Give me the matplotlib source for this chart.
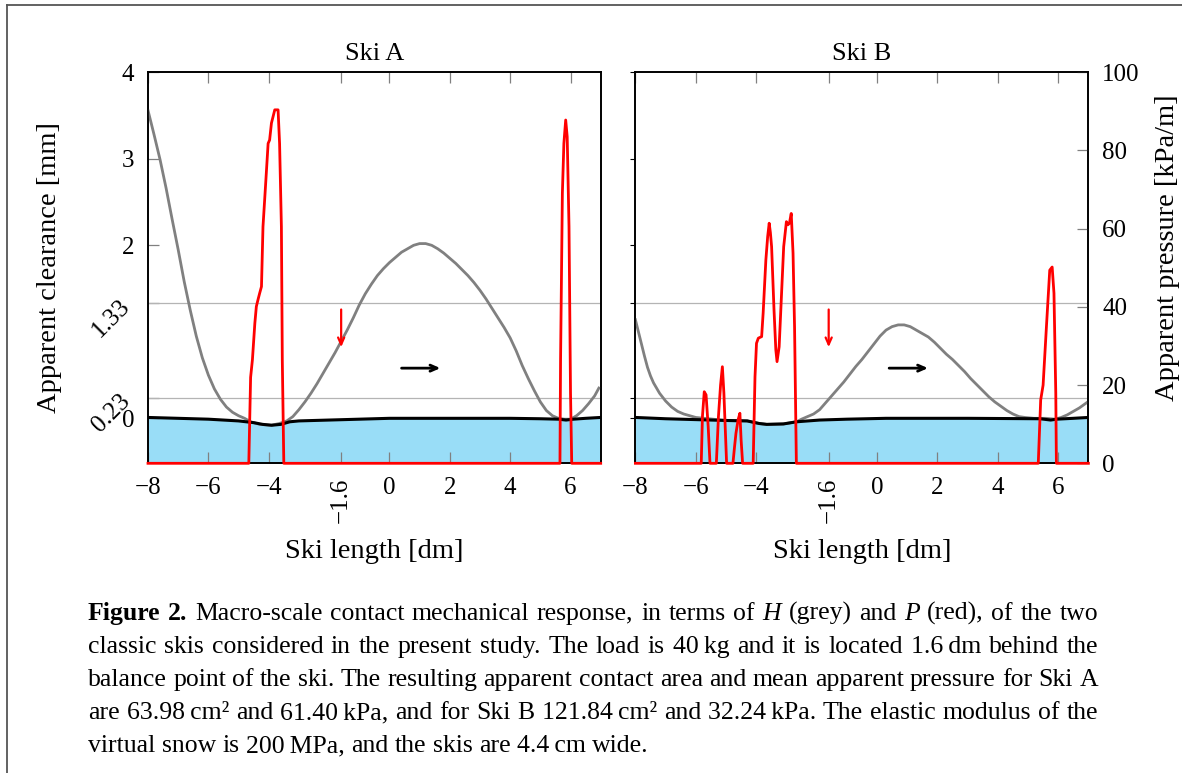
import matplotlib
matplotlib.use("Agg")
import matplotlib.pyplot as plt
from matplotlib.lines import Line2D

plt.rcParams['font.family'] = ['Liberation Serif', 'DejaVu Serif']
plt.rcParams['axes.unicode_minus'] = True

# ---------------- data ----------------
# Ski A: apparent clearance H [mm]
ski_a_h_x = [-8.0, -7.8, -7.6, -7.4, -7.2, -7.0, -6.8, -6.6, -6.4, -6.2, -6.0, -5.8, -5.6,
             -5.4, -5.2, -5.0, -4.8, -4.6, -4.3, -3.92, -3.65, -3.4, -3.2, -3.0, -2.8, -2.6,
             -2.4, -2.2, -2.0, -1.8, -1.6, -1.4, -1.2, -1.0, -0.8, -0.6, -0.4, -0.2, 0.0,
             0.2, 0.4, 0.6, 0.8, 1.0, 1.2, 1.4, 1.6, 1.8, 2.0, 2.2, 2.4, 2.6, 2.8, 3.0, 3.2,
             3.4, 3.6, 3.8, 4.0, 4.2, 4.4, 4.6, 4.8, 5.0, 5.2, 5.4, 5.6, 5.8, 6.0, 6.2, 6.4,
             6.6, 6.8, 6.94]
ski_a_h = [3.56, 3.28, 2.99, 2.66, 2.30, 1.95, 1.58, 1.25, 0.95, 0.70, 0.50, 0.34, 0.22,
           0.13, 0.07, 0.03, 0.00, -0.04, -0.07, -0.08, -0.06, -0.03, 0.02, 0.10, 0.19, 0.29,
           0.40, 0.52, 0.64, 0.76, 0.89, 1.02, 1.16, 1.31, 1.44, 1.55, 1.65, 1.73, 1.80,
           1.86, 1.92, 1.96, 2.00, 2.02, 2.02, 2.00, 1.96, 1.91, 1.85, 1.79, 1.72, 1.65, 1.57,
           1.48, 1.38, 1.27, 1.16, 1.05, 0.93, 0.78, 0.61, 0.46, 0.32, 0.19, 0.09, 0.03, 0.00,
           -0.01, -0.01, 0.03, 0.09, 0.17, 0.26, 0.35]
# Ski A: snow surface [mm]
ski_a_s_x = [-8.0, -7.0, -6.0, -5.0, -4.5, -4.2, -3.9, -3.6, -3.3, -3.0, -2.0, -1.0,
             0.0, 2.0, 4.0, 5.0, 5.6, 5.85, 6.1, 6.5, 7.0]
ski_a_s = [0.01, 0.00, -0.01, -0.03, -0.05, -0.07, -0.08, -0.07, -0.04, -0.03, -0.02, -0.01,
           0.00, 0.00, 0.00, -0.005, -0.01, -0.02, -0.01, 0.00, 0.01]
# Ski A: apparent pressure P [kPa/m]
ski_a_p_x = [-8.0, -4.66, -4.60, -4.54, -4.46, -4.41, -4.35, -4.30, -4.24, -4.19, -4.08,
             -4.02, -3.97, -3.91, -3.80, -3.69, -3.64, -3.58, -3.55, -3.50,
             5.65, 5.67, 5.73, 5.78, 5.84, 5.89, 5.95, 6.00, 6.04, 7.0]
ski_a_p = [0, 0, 22.0, 26.5, 35.8, 40.1, 42.0, 43.5, 45.2, 60.5, 74.2,
           81.8, 82.7, 87.0, 90.4, 90.4, 81.8, 60.5, 26.4, 0,
           0, 26.4, 69.1, 81.8, 87.8, 83.5, 60.5, 17.9, 0, 0]

# Ski B: apparent clearance H [mm]
ski_b_h_x = [-8.0, -7.9, -7.8, -7.7, -7.6, -7.5, -7.4, -7.3, -7.2, -7.0, -6.8, -6.6, -6.4,
             -6.2, -6.0, -5.0, -4.3, -3.9, -3.65, -3.1, -2.66, -2.5, -2.3, -2.1, -1.9, -1.7,
             -1.5, -1.3, -1.1, -0.9, -0.7, -0.5, -0.3, -0.1, 0.1, 0.3, 0.5, 0.7, 0.9, 1.1,
             1.3, 1.5, 1.7, 1.9, 2.1, 2.3, 2.5, 2.7, 2.9, 3.1, 3.3, 3.5, 3.7, 3.9, 4.1, 4.3,
             4.5, 4.7, 4.9, 5.2, 5.6, 5.9, 6.1, 6.3, 6.5, 6.7, 6.94]
ski_b_h = [1.14, 1.00, 0.86, 0.72, 0.59, 0.49, 0.41, 0.35, 0.29, 0.20, 0.13, 0.08, 0.05,
           0.03, 0.01, -0.025, -0.03, -0.06, -0.07, -0.065, -0.04, -0.01, 0.02, 0.05, 0.10,
           0.18, 0.26, 0.34, 0.42, 0.51, 0.60, 0.68, 0.77, 0.86, 0.95, 1.02, 1.06, 1.08,
           1.08, 1.06, 1.02, 0.98, 0.94, 0.88, 0.81, 0.74, 0.68, 0.61, 0.54, 0.46, 0.39,
           0.32, 0.25, 0.19, 0.14, 0.09, 0.05, 0.02, 0.01, 0.00, 0.00, -0.01, 0.01, 0.04,
           0.08, 0.12, 0.18]
# Ski B: snow surface [mm]
ski_b_s_x = [-8.0, -7.0, -6.0, -5.0, -4.3, -3.9, -3.65, -3.1, -2.66, -1.9, -1.0, 0.3,
             3.0, 5.4, 5.75, 5.95, 6.5, 7.0]
ski_b_s = [0.01, -0.005, -0.015, -0.025, -0.03, -0.06, -0.07, -0.065, -0.04, -0.02, -0.01, 0.0,
           0.0, -0.005, -0.02, -0.01, 0.0, 0.01]
# Ski B: apparent pressure P [kPa/m]
ski_b_p_x = [-8.0, -5.82, -5.78, -5.72, -5.66, -5.59, -5.53,
             -5.32, -5.25, -5.18, -5.12, -5.07, -5.02, -4.98,
             -4.77, -4.72, -4.67, -4.60, -4.54, -4.50, -4.45,
             -4.10, -4.04, -3.99, -3.93, -3.82, -3.77, -3.68, -3.62, -3.57, -3.53, -3.49,
             -3.41, -3.35, -3.31, -3.24, -3.16, -3.09, -3.00, -2.95, -2.90, -2.84, -2.78,
             -2.73, -2.67,
             5.34, 5.42, 5.50, 5.61, 5.72, 5.80, 5.86, 5.92, 5.94, 7.0]
ski_b_p = [0, 0, 12.0, 18.3, 17.5, 9.4, 0,
           0, 12.0, 20.0, 24.7, 18.0, 8.0, 0,
           0, 4.0, 7.7, 11.1, 12.8, 6.0, 0,
           0, 22.1, 30.7, 32.0, 32.4, 38.4, 52.0, 58.0, 61.4, 59.0, 55.4,
           39.2, 29.0, 26.0, 29.8, 43.5, 55.4, 61.8, 61.0, 61.4, 63.9, 53.7,
           34.9, 0,
           0, 16.2, 20.0, 34.9, 49.4, 50.2, 43.5, 17.9, 0, 0]

panel_titles = ["Ski A", "Ski B"]
x_ticks = [-8, -6, -4, -1.6, 0, 2, 4, 6]
x_tick_labels = ["\u22128", "\u22126", "\u22124", "\u22121.6", "0", "2", "4", "6"]
h_ticks = [0, 0.23, 1.33, 2, 3, 4]
h_tick_labels = ["0", "0.23", "1.33", "2", "3", "4"]
h_ref_levels = [0.23, 1.33]
p_ticks = [0, 20, 40, 60, 80, 100]
p_tick_labels = ["0", "20", "40", "60", "80", "100"]
load_position = -1.6

caption_lines = [
    [("Figure", "bold"), ("2.", "bold"), ("Macro-scale", ""), ("contact", ""), ("mechanical", ""),
     ("response,", ""), ("in", ""), ("terms", ""), ("of", ""), ("H", "italic"), ("(grey)", ""),
     ("and", ""), ("P", "italic"), ("(red),", ""), ("of", ""), ("the", ""), ("two", "")],
    "classic skis considered in the present study. The load is 40\u2009kg and it is located "
    "1.6\u2009dm behind the",
    "balance point of the ski. The resulting apparent contact area and mean apparent pressure "
    "for Ski A",
    "are 63.98\u2009cm\u00b2 and 61.40\u2009kPa, and for Ski B 121.84\u2009cm\u00b2 and "
    "32.24\u2009kPa. The elastic modulus of the",
    "virtual snow is 200\u2009MPa, and the skis are 4.4\u2009cm wide.",
]

# ---------------- figure ----------------
W, H = 1182, 773
fig = plt.figure(figsize=(W / 100, H / 100), dpi=100)

def px_rect(x0, y0, x1, y1):
    return [x0 / W, 1 - y1 / H, (x1 - x0) / W, (y1 - y0) / H]

GREY = "#808080"
BLUE = "#99DDF7"
H_LIM = (-0.52, 4.0)
X_LIM = (-8, 7)

panels = [
    (px_rect(148, 72.3, 600.7, 463.3), ski_a_h_x, ski_a_h, ski_a_s_x, ski_a_s, ski_a_p_x, ski_a_p),
    (px_rect(635.4, 72.3, 1088.4, 463.3), ski_b_h_x, ski_b_h, ski_b_s_x, ski_b_s, ski_b_p_x, ski_b_p),
]

for i, (rect, hx, hy, sx, sy, px, py) in enumerate(panels):
    ax = fig.add_axes(rect)
    ax.set_xlim(*X_LIM)
    ax.set_ylim(*H_LIM)
    ax.fill_between(sx, sy, H_LIM[0], color=BLUE, lw=0, zorder=1)
    for lvl in h_ref_levels:
        ax.axhline(lvl, color="#b4b4b4", lw=0.9, zorder=2)
    ax.plot(hx, hy, color=GREY, lw=2.0, zorder=3, solid_joinstyle="round")
    ax.plot(sx, sy, color="black", lw=2.2, zorder=4)

    ax.annotate("", xy=(load_position, 0.79), xytext=(load_position, 1.29),
                arrowprops=dict(arrowstyle="->,head_length=0.5,head_width=0.22",
                                color="red", lw=1.6), zorder=6)
    ax.annotate("", xy=(1.78, 0.58), xytext=(0.31, 0.58),
                arrowprops=dict(arrowstyle="->,head_length=0.5,head_width=0.22",
                                color="black", lw=2.0), zorder=6)

    ax.set_xticks(x_ticks)
    ax.set_xticklabels(x_tick_labels, fontsize=18)
    ax.get_xticklabels()[3].set_rotation(90)
    ax.tick_params(axis="x", direction="in", length=8, width=0.9, color=GREY,
                   top=True, pad=10)
    ax.set_xlabel("Ski length [dm]", fontsize=20.5, labelpad=12)
    ax.set_title(panel_titles[i], fontsize=19, pad=9)
    for sp in ax.spines.values():
        sp.set_linewidth(1.2)

    ax.set_yticks(h_ticks)
    if i == 0:
        ax.set_yticklabels(h_tick_labels, fontsize=18)
        for lbl, txt in zip(ax.get_yticklabels(), h_tick_labels):
            if txt in ("0.23", "1.33"):
                lbl.set_rotation(45)
        ax.tick_params(axis="y", direction="in", length=8, width=0.9, color=GREY,
                       right=True, pad=10)
    else:
        ax.tick_params(axis="y", left=False, labelleft=False)

    axp = ax.twinx()
    axp.set_ylim(0, 100)
    axp.plot(px, py, color="red", lw=2.0, zorder=5, clip_on=False)
    if i == 1:
        axp.set_yticks(p_ticks)
        axp.set_yticklabels(p_tick_labels, fontsize=18)
        axp.tick_params(axis="y", direction="in", length=8, width=0.9, color=GREY, pad=10)
    else:
        axp.set_yticks([])
    for sp in axp.spines.values():
        sp.set_linewidth(1.2)

fig.text(50 / W, 1 - 268 / H, "Apparent clearance [mm]", rotation=90, fontsize=20.5,
         ha="center", va="center")
fig.text(1168 / W, 1 - 248 / H, "Apparent pressure [kPa/m]", rotation=90, fontsize=20.5,
         ha="center", va="center")

# frame around the figure
fig.add_artist(Line2D([7 / W, 7 / W], [0, 1 - 5 / H], color="#555555", lw=1.3))
fig.add_artist(Line2D([7 / W, 1], [1 - 5 / H, 1 - 5 / H], color="#555555", lw=1.3))

# justified caption
CAP_FS = 18.5
cap_x0, cap_x1 = 88, 1098
baselines = [620, 653, 686, 719, 752]
renderer = fig.canvas.get_renderer()
for li, line in enumerate(caption_lines):
    if isinstance(line, str):
        tokens = [(w, "") for w in line.split(" ")]
    else:
        tokens = line
    arts = []
    for word, style in tokens:
        kw = dict(fontsize=CAP_FS, va="baseline", ha="left")
        if style == "bold":
            kw["fontweight"] = "bold"
        elif style == "italic":
            kw["fontstyle"] = "italic"
        arts.append(fig.text(0, 0, word, **kw))
    widths = [a.get_window_extent(renderer).width for a in arts]
    last = li == len(caption_lines) - 1
    if last:
        gap = CAP_FS * 100 / 72 * 0.25
    else:
        gap = (cap_x1 - cap_x0 - sum(widths)) / (len(arts) - 1)
    x = cap_x0
    for a, w in zip(arts, widths):
        a.set_position((x / W, 1 - baselines[li] / H))
        x += w + gap

fig.savefig("out.png", dpi=100)
